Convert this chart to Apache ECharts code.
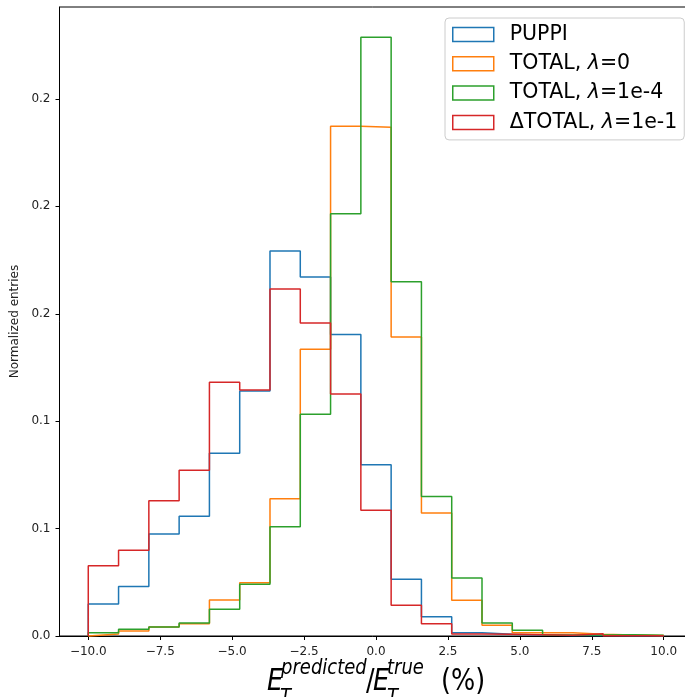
<!DOCTYPE html>
<html><head><meta charset="utf-8">
<script src="https://cdn.jsdelivr.net/npm/echarts@6/dist/echarts.min.js"></script>
<style>html,body{margin:0;padding:0;background:#fff}#c{width:685px;height:697px}</style>
</head><body><div id="c"></div>
<script>
// ---- histogram binning ----
const binStart = -10, binEnd = 10, binCount = 19;

// ---- series ----
const seriesNames = ['PUPPI', 'TOTAL, λ=0', 'TOTAL, λ=1e-4', 'ΔTOTAL, λ=1e-1'];
const seriesColors = ['#1f77b4', '#ff7f0e', '#2ca02c', '#d62728'];
const puppi = [0.0149, 0.0230, 0.0475, 0.0557, 0.0851, 0.1141, 0.1792, 0.1671, 0.1403, 0.0797, 0.0264, 0.0090, 0.0015, 0.0008, 0.0005, 0.0002, 0.0002, 0.0001, 0.0001];
const totalL0 = [0.0009, 0.0023, 0.0042, 0.0057, 0.0168, 0.0248, 0.0639, 0.1335, 0.2373, 0.2368, 0.1392, 0.0573, 0.0166, 0.0050, 0.0015, 0.0015, 0.0008, 0.0005, 0.0002];
const totalL1e4 = [0.0015, 0.0031, 0.0042, 0.0061, 0.0124, 0.0241, 0.0509, 0.1032, 0.1965, 0.2787, 0.1649, 0.0649, 0.0270, 0.0061, 0.0027, 0.0005, 0.0005, 0.0006, 0.0003];
const deltaTotalL1e1 = [0.0327, 0.0399, 0.0630, 0.0771, 0.1181, 0.1145, 0.1615, 0.1457, 0.1127, 0.0585, 0.0143, 0.0057, 0.0009, 0.0008, 0.0006, 0.0003, 0.0011, 0.0001, 0.0001];

// ---- ticks ----
const xTickValues = [-10, -7.5, -5, -2.5, 0, 2.5, 5, 7.5, 10];
const xTickLabels = ['−10.0', '−7.5', '−5.0', '−2.5', '0.0', '2.5', '5.0', '7.5', '10.0'];
const yTickValues = [0, 0.05, 0.10, 0.15, 0.20, 0.25];
const yTickLabels = ['0.0', '0.1', '0.1', '0.2', '0.2', '0.2'];
const yAxisTitle = 'Normalized entries';

const allValues = [puppi, totalL0, totalL1e4, deltaTotalL1e1];
const edges = [];
for (let k = 0; k <= binCount; k++) edges.push(binStart + k * (binEnd - binStart) / binCount);

function stepData(vals) {
  const d = [[edges[0], 0]];
  vals.forEach((v, k) => d.push([edges[k], v]));
  d.push([edges[binCount], vals[vals.length - 1]]);
  d.push([edges[binCount], 0]);
  return d;
}

const FONT = 'DejaVu Sans';
const chart = echarts.init(document.getElementById('c'), null, {renderer: 'canvas'});

const series = seriesNames.map((n, i) => ({
  name: n, type: 'line', step: 'end', showSymbol: false, symbol: 'none',
  data: stepData(allValues[i]),
  lineStyle: {color: seriesColors[i], width: 1.5},
  itemStyle: {color: seriesColors[i]},
  clip: false, silent: true, animation: false
}));

// x-axis title (mathtext-like)
const sMain = 25.5, sScr = 18;
function t(x, yBase, text, size, italic) {
  return {type: 'text', x: x, y: yBase - 0.346 * size,
    style: {text: text, fontFamily: FONT, fontSize: size, fontStyle: italic ? 'italic' : 'normal',
      fill: '#000', align: 'left', verticalAlign: 'middle'}};
}
const xTitle = {
  type: 'group', x: 0, y: 693, scaleY: 1.2,
  children: [
    t(267, 0, 'E', sMain, true),
    t(281, -14, 'predicted', sScr, true),
    t(280, 11, 'T', sScr, true),
    t(366, 0, '/', sMain, false),
    t(373, 0, 'E', sMain, true),
    t(387, -14, 'true', sScr, true),
    t(387, 11, 'T', sScr, true),
    t(441, 0, '(%)', sMain, false)
  ]
};

chart.setOption({
  animation: false,
  backgroundColor: '#fff',
  grid: {left: 59.5, top: 7, width: 633, height: 629, outerBoundsMode: 'none', containLabel: false,
    show: true, borderColor: '#000', borderWidth: 1, backgroundColor: 'transparent'},
  xAxis: {
    type: 'value', min: -11, max: 11,
    axisLine: {show: true, onZero: false, lineStyle: {color: '#000', width: 1}},
    axisTick: {show: true, length: 4, lineStyle: {color: '#000'}, customValues: xTickValues},
    axisLabel: {customValues: xTickValues, margin: 10, fontFamily: FONT, fontSize: 12, color: '#222',
      formatter: v => { const i = xTickValues.findIndex(x => Math.abs(x - v) < 1e-6); return i >= 0 ? xTickLabels[i] : ''; }},
    splitLine: {show: false}
  },
  yAxis: {
    type: 'value', min: 0, max: 0.2928,
    name: yAxisTitle, nameLocation: 'middle', nameRotate: 90, nameGap: 33,
    nameTextStyle: {fontFamily: FONT, fontSize: 12, color: '#222'},
    axisLine: {show: true, onZero: false, lineStyle: {color: '#000', width: 1}},
    axisTick: {show: true, length: 4, lineStyle: {color: '#000'}, customValues: yTickValues},
    axisLabel: {customValues: yTickValues, margin: 9, fontFamily: FONT, fontSize: 12, color: '#222',
      formatter: v => { const i = yTickValues.findIndex(x => Math.abs(x - v) < 1e-6); return i >= 0 ? yTickLabels[i] : ''; }},
    splitLine: {show: false}
  },
  legend: {
    left: 445, top: 18, orient: 'vertical',
    padding: [6, 7, 7, 7],
    itemWidth: 41, itemHeight: 14, itemGap: 8.3,
    backgroundColor: 'rgba(255,255,255,0.8)', borderColor: '#cccccc', borderWidth: 1, borderRadius: 4,
    icon: 'rect',
    lineStyle: {opacity: 0},
    data: seriesNames.map((n, i) => ({name: n, icon: 'rect',
      itemStyle: {color: 'transparent', borderColor: seriesColors[i], borderWidth: 1.5}})),
    formatter: n => n.replace('λ', '{i|λ}'),
    textStyle: {fontFamily: FONT, fontSize: 20.5, color: '#000', lineHeight: 20, padding: [0, 0, 0, 11],
      rich: {i: {fontFamily: FONT, fontSize: 20.5, fontStyle: 'italic', color: '#000', lineHeight: 20}}}
  },
  graphic: [xTitle],
  series: series
});
</script></body></html>
